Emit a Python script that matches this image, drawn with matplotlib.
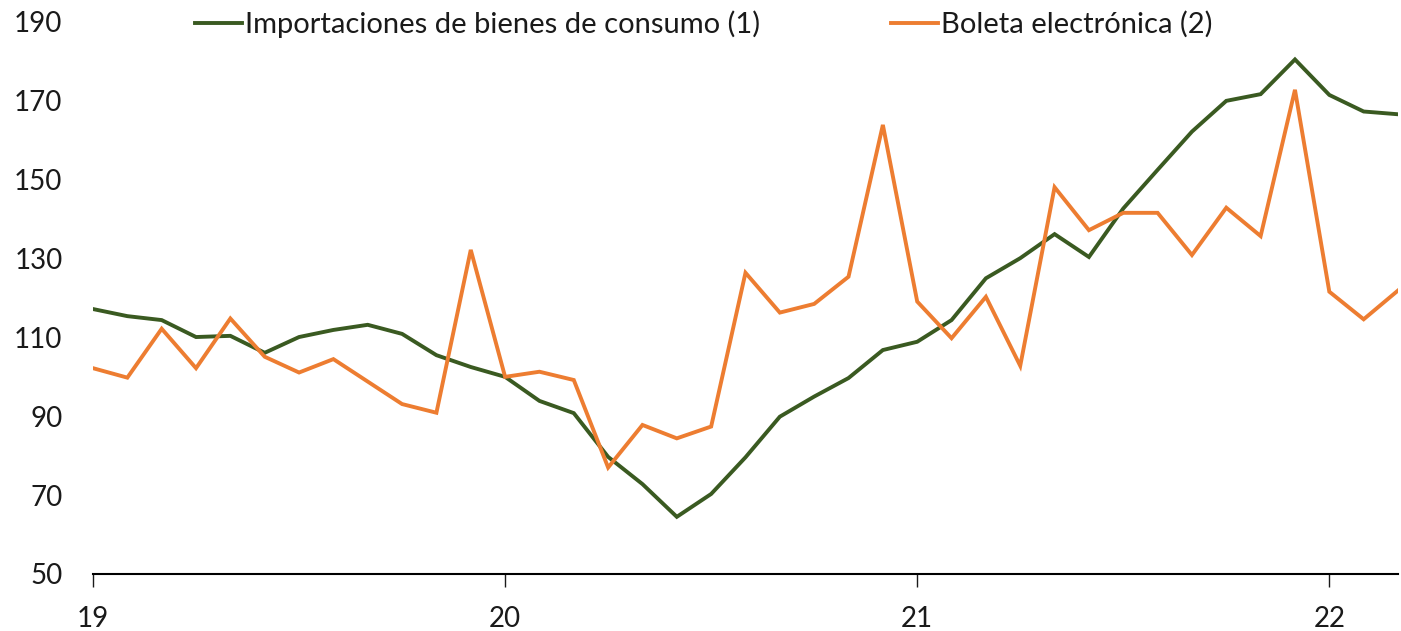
import numpy as np
import matplotlib
matplotlib.use("Agg")
import matplotlib.pyplot as plt

# monthly data, Jan 2019 - Mar 2022
importaciones = [117.2, 115.4, 114.4, 110.1, 110.4, 106.1, 110.1, 111.9, 113.2, 110.9,
                 105.5, 102.5, 100.0, 93.9, 90.8, 79.7, 72.8, 64.5, 70.3, 79.6,
                 89.9, 95.0, 99.7, 106.8, 108.9, 114.4, 125.0, 130.1, 136.2, 130.4,
                 142.7, 152.5, 162.2, 170.0, 171.7, 180.5, 171.5, 167.3, 166.6]
boleta = [102.2, 99.8, 112.2, 102.2, 114.8, 105.1, 101.1, 104.5, 98.8, 93.1,
          90.9, 132.2, 100.0, 101.3, 99.2, 77.0, 87.8, 84.4, 87.4, 126.4,
          116.3, 118.5, 125.4, 163.9, 119.1, 109.8, 120.3, 102.8, 148.1, 137.2,
          141.6, 141.6, 130.9, 142.9, 135.7, 172.8, 121.6, 114.6, 121.9]
year_ticks = [19, 20, 21, 22]
y_ticks = [50, 70, 90, 110, 130, 150, 170, 190]

labels = ["Importaciones de bienes de consumo (1)", "Boleta electrónica (2)"]
colors = ["#3A5A21", "#ED7D31"]

plt.rcParams['font.family'] = ['Lato', 'DejaVu Sans']
plt.rcParams['font.size'] = 20
plt.rcParams['text.color'] = '#1a1a1a'

x = 19 + np.arange(len(importaciones)) / 12.0

fig = plt.figure(figsize=(14.01, 6.31), dpi=100)
ax = fig.add_axes([93 / 1401, 57 / 631, 1305 / 1401, 552 / 631])

ax.plot(x, importaciones, color=colors[0], lw=2.8, label=labels[0], solid_joinstyle='miter')
ax.plot(x, boleta, color=colors[1], lw=2.8, label=labels[1], solid_joinstyle='miter')

ax.set_xlim(x[0], x[-1])
ax.set_ylim(50, 190)
ax.set_xticks(year_ticks)
ax.set_xticklabels([str(t) for t in year_ticks])
ax.set_yticks(y_ticks)

for s in ['top', 'right', 'left']:
    ax.spines[s].set_visible(False)
ax.spines['bottom'].set_linewidth(1.5)
ax.spines['bottom'].set_color('black')
ax.tick_params(axis='x', direction='out', length=9, width=1, pad=14, colors='#1a1a1a')
ax.tick_params(axis='y', length=0, pad=22, colors='#1a1a1a')
ax.patch.set_alpha(0)

fig.legend(loc='center', bbox_to_anchor=(0.5025, 0.962), ncol=2, frameon=False,
           handlelength=1.6, handletextpad=0.1, columnspacing=4.5, fontsize=21)

fig.savefig("out.png", dpi=100)
